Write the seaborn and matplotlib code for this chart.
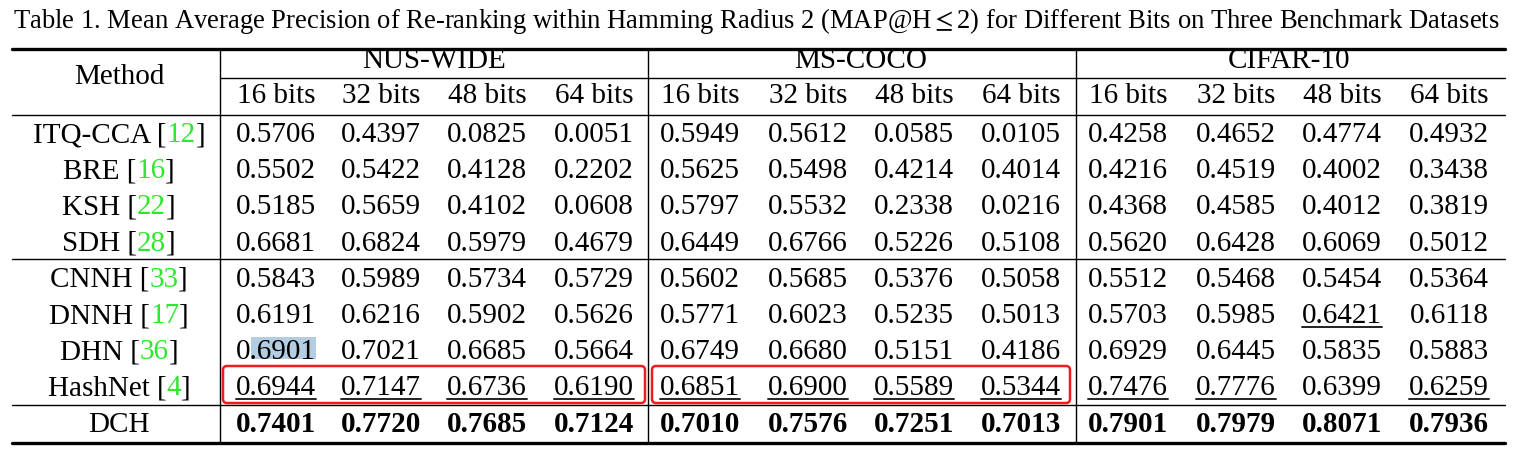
import numpy as np
import seaborn as sns
import matplotlib.pyplot as plt
from matplotlib.patches import FancyBboxPatch, Rectangle

# table content
title = ("Table 1. Mean Average Precision of Re-ranking within Hamming Radius 2 "
         "(MAP@H$\\leq$2) for Different Bits on Three Benchmark Datasets")
methods = ['ITQ-CCA', 'BRE', 'KSH', 'SDH', 'CNNH', 'DNNH', 'DHN', 'HashNet', 'DCH']
refs = ['12', '16', '22', '28', '33', '17', '36', '4', '']
datasets = ['NUS-WIDE', 'MS-COCO', 'CIFAR-10']
bits = ['16 bits', '32 bits', '48 bits', '64 bits']

nus_wide = [
    [0.5706, 0.4397, 0.0825, 0.0051],
    [0.5502, 0.5422, 0.4128, 0.2202],
    [0.5185, 0.5659, 0.4102, 0.0608],
    [0.6681, 0.6824, 0.5979, 0.4679],
    [0.5843, 0.5989, 0.5734, 0.5729],
    [0.6191, 0.6216, 0.5902, 0.5626],
    [0.6901, 0.7021, 0.6685, 0.5664],
    [0.6944, 0.7147, 0.6736, 0.6190],
    [0.7401, 0.7720, 0.7685, 0.7124],
]
ms_coco = [
    [0.5949, 0.5612, 0.0585, 0.0105],
    [0.5625, 0.5498, 0.4214, 0.4014],
    [0.5797, 0.5532, 0.2338, 0.0216],
    [0.6449, 0.6766, 0.5226, 0.5108],
    [0.5602, 0.5685, 0.5376, 0.5058],
    [0.5771, 0.6023, 0.5235, 0.5013],
    [0.6749, 0.6680, 0.5151, 0.4186],
    [0.6851, 0.6900, 0.5589, 0.5344],
    [0.7010, 0.7576, 0.7251, 0.7013],
]
cifar10 = [
    [0.4258, 0.4652, 0.4774, 0.4932],
    [0.4216, 0.4519, 0.4002, 0.3438],
    [0.4368, 0.4585, 0.4012, 0.3819],
    [0.5620, 0.6428, 0.6069, 0.5012],
    [0.5512, 0.5468, 0.5454, 0.5364],
    [0.5703, 0.5985, 0.6421, 0.6118],
    [0.6929, 0.6445, 0.5835, 0.5883],
    [0.7476, 0.7776, 0.6399, 0.6259],
    [0.7901, 0.7979, 0.8071, 0.7936],
]

sns.set_theme(style='white')
plt.rcParams['font.family'] = ['Liberation Serif', 'DejaVu Serif']
plt.rcParams['mathtext.fontset'] = 'stix'
plt.rcParams['text.color'] = 'black'

W, H = 1522, 461
fig = plt.figure(figsize=(W / 100, H / 100), dpi=100)
ax = fig.add_axes([0, 0, 1, 1])
ax.set_xlim(0, W)
ax.set_ylim(H, 0)
ax.axis('off')
renderer = fig.canvas.get_renderer()

fs = 21
green = '#2ee82e'

# layout (baselines, in pixels from the top)
x_left, x_right = 12, 1505
method_x = 119
col_x = [276, 381, 487, 594, 700, 808, 914, 1021, 1128, 1236, 1342, 1449]
set_x = [434, 861, 1289]
vlines = [220, 648, 1076]
row_y = 142 + 36.2 * np.arange(len(methods))

ax.text(756, 28, title, ha='center', va='baseline', fontsize=19.2)

# rules
ax.plot([x_left, x_right], [49, 49], color='black', lw=2.4)
ax.plot([vlines[0], x_right], [78, 78], color='black', lw=1.0)
for y in [115, 259, 405]:
    ax.plot([x_left, x_right], [y, y], color='black', lw=1.0)
ax.plot([x_left, x_right], [443, 443], color='black', lw=2.4)
for x in vlines:
    ax.plot([x, x], [49, 443], color='black', lw=1.0)

# header
ax.text(method_x, 84, 'Method', ha='center', va='baseline', fontsize=fs)
for i, name in enumerate(datasets):
    ax.text(set_x[i], 68, name, ha='center', va='baseline', fontsize=fs)
    for j, b in enumerate(bits):
        ax.text(col_x[4 * i + j], 103, b, ha='center', va='baseline', fontsize=fs)


def width_of(s, **kw):
    t = ax.text(0, 0, s, fontsize=fs, **kw)
    w = t.get_window_extent(renderer).width
    t.remove()
    return w


# method names with green citations
for r, (m, ref) in enumerate(zip(methods, refs)):
    if ref:
        parts = [(m + ' [', 'black'), (ref, green), (']', 'black')]
    else:
        parts = [(m, 'black')]
    widths = [width_of(p) for p, _ in parts]
    x = method_x - sum(widths) / 2
    for (p, c), w in zip(parts, widths):
        ax.text(x, row_y[r], p, ha='left', va='baseline', fontsize=fs, color=c)
        x += w

# selection highlight on DHN 16 bits (covers ".6901")
ax.add_patch(Rectangle((251, 337), 65, 22, color='#b3cde2', lw=0, zorder=0))

# values: best in bold, second best underlined
tables = [np.array(nus_wide), np.array(ms_coco), np.array(cifar10)]
for i, tab in enumerate(tables):
    for j in range(4):
        col = tab[:, j]
        order = np.argsort(col)[::-1]
        best, second = order[0], order[1]
        x = col_x[4 * i + j]
        for r, v in enumerate(col):
            weight = 'bold' if r == best else 'normal'
            ax.text(x, row_y[r], f'{v:.4f}', ha='center', va='baseline',
                    fontsize=fs, fontweight=weight)
            if r == second:
                w = width_of(f'{v:.4f}')
                ax.plot([x - w / 2, x + w / 2], [row_y[r] + 3.5] * 2,
                        color='#222222', lw=1.4)

# red boxes around HashNet on NUS-WIDE and MS-COCO
for x0, x1 in [(223, 645), (652, 1070)]:
    ax.add_patch(FancyBboxPatch((x0, 366), x1 - x0, 37,
                                boxstyle='round,pad=0,rounding_size=4',
                                fill=False, edgecolor='#ee1c1c', lw=1.8))

fig.savefig('out.png', dpi=100)
